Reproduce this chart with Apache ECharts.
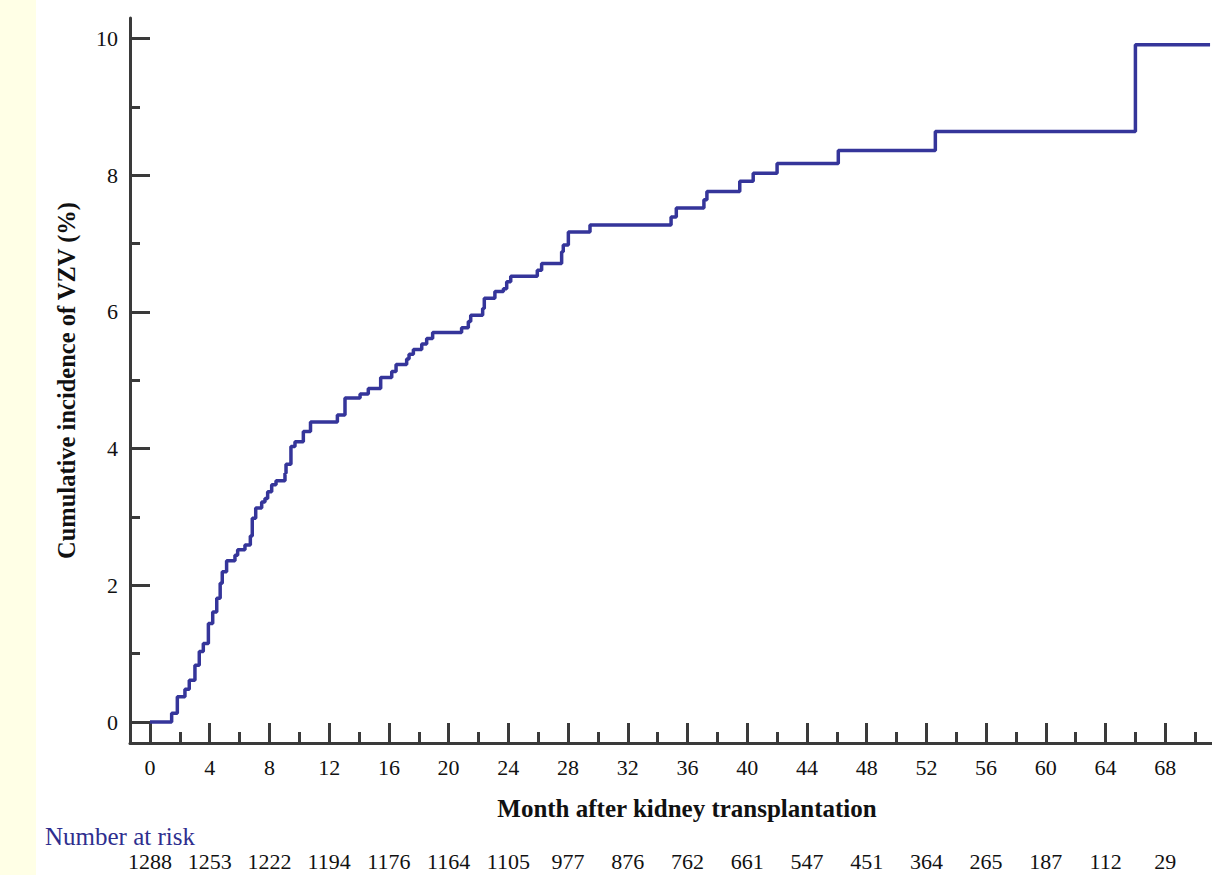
<!DOCTYPE html>
<html>
<head>
<meta charset="utf-8">
<script src="https://cdn.jsdelivr.net/npm/echarts@6/dist/echarts.min.js"></script>
<style>
  html, body { margin: 0; padding: 0; background: #ffffff; }
  #strip { position: absolute; left: 0; top: 0; width: 36px; height: 875px; background: #FFFFE6; }
  #chart { position: absolute; left: 0; top: 0; width: 1212px; height: 875px; }
</style>
</head>
<body>
<div id="strip"></div>
<div id="chart"></div>
<script>
// Step times (months) and cumulative incidence (%)
const months = [0, 1.45, 1.83, 2.34, 2.63, 3.01, 3.30, 3.57, 3.91, 4.20, 4.47, 4.70, 4.84, 5.13, 5.69, 5.87, 6.36, 6.72, 6.85, 7.08, 7.48, 7.70, 7.88, 8.15, 8.44, 9.04, 9.11, 9.44, 9.71, 10.27, 10.75, 12.55, 13.06, 14.07, 14.62, 15.45, 16.19, 16.48, 17.19, 17.35, 17.64, 18.20, 18.53, 18.93, 20.87, 21.32, 21.48, 22.28, 22.39, 23.10, 23.67, 23.89, 24.16, 25.94, 26.23, 27.57, 27.68, 28.02, 29.47, 34.90, 35.25, 37.10, 37.30, 39.50, 40.40, 42.00, 46.10, 52.60, 66.00, 71.00];
const incidence = [0, 0.13, 0.37, 0.48, 0.61, 0.83, 1.03, 1.15, 1.44, 1.61, 1.81, 2.03, 2.20, 2.36, 2.44, 2.52, 2.59, 2.72, 2.98, 3.13, 3.22, 3.27, 3.37, 3.47, 3.53, 3.64, 3.77, 4.03, 4.10, 4.25, 4.39, 4.49, 4.74, 4.80, 4.88, 5.04, 5.13, 5.23, 5.31, 5.38, 5.45, 5.53, 5.61, 5.70, 5.77, 5.86, 5.95, 6.05, 6.20, 6.30, 6.34, 6.44, 6.52, 6.61, 6.71, 6.88, 6.98, 7.17, 7.27, 7.39, 7.52, 7.64, 7.76, 7.91, 8.03, 8.17, 8.36, 8.64, 9.91, 9.91];
const xTicks = [0, 4, 8, 12, 16, 20, 24, 28, 32, 36, 40, 44, 48, 52, 56, 60, 64, 68];
const xMinorTicks = [2, 6, 10, 14, 18, 22, 26, 30, 34, 38, 42, 46, 50, 54, 58, 62, 66, 70];
const yTicks = [0, 2, 4, 6, 8, 10];
const yMinorTicks = [1, 3, 5, 7, 9];
const atRisk = [1288, 1253, 1222, 1194, 1176, 1164, 1105, 977, 876, 762, 661, 547, 451, 364, 265, 187, 112, 29];

const XMIN = -1.34, XMAX = 71.13, YMIN = -0.307, YMAX = 10.30;
const AX = '#3a3a3a';
const SERIF = '"Liberation Serif", "Times New Roman", "DejaVu Serif", serif';

const chart = echarts.init(document.getElementById('chart'), null, { renderer: 'svg' });
const series = months.map((m, i) => [m, incidence[i]]);

chart.setOption({
  backgroundColor: 'transparent',
  animation: false,
  title: {
    text: 'Number at risk',
    left: 45, top: 824, padding: 0,
    textStyle: { fontFamily: SERIF, fontSize: 25, fontWeight: 'normal', color: '#2e2e8e' }
  },
  grid: { left: 130, right: 0, top: 18, bottom: 132, containLabel: false, outerBoundsMode: 'none' },
  xAxis: [
    {
      type: 'value', min: XMIN, max: XMAX, position: 'bottom',
      axisLine: { onZero: false, lineStyle: { color: AX, width: 3 } },
      axisTick: { inside: true, length: 20, customValues: xTicks, lineStyle: { color: AX, width: 3 } },
      axisLabel: { customValues: xTicks, margin: 13, fontFamily: SERIF, fontSize: 22, color: '#111' },
      splitLine: { show: false },
      name: 'Month after kidney transplantation',
      nameLocation: 'middle', nameGap: 53,
      nameTextStyle: { fontFamily: SERIF, fontSize: 25, fontWeight: 'bold', color: '#111', padding: [0, 0, 0, 32] }
    },
    {
      type: 'value', min: XMIN, max: XMAX, position: 'bottom',
      axisLine: { show: false, onZero: false },
      axisTick: { inside: true, length: 11, customValues: xMinorTicks, lineStyle: { color: AX, width: 3 } },
      axisLabel: { show: false },
      splitLine: { show: false }
    },
    {
      type: 'value', min: XMIN, max: XMAX, position: 'bottom',
      axisLine: { show: false, onZero: false },
      axisTick: { show: false },
      axisLabel: {
        customValues: xTicks, margin: 108, fontFamily: SERIF, fontSize: 22, lineHeight: 20, color: '#111',
        formatter: v => String(atRisk[xTicks.indexOf(Math.round(v))])
      },
      splitLine: { show: false }
    }
  ],
  yAxis: [
    {
      type: 'value', min: YMIN, max: YMAX, position: 'left',
      axisLine: { show: true, onZero: false, lineStyle: { color: AX, width: 3 } },
      axisTick: { show: true, inside: true, length: 20, customValues: yTicks, lineStyle: { color: AX, width: 3 } },
      axisLabel: { customValues: yTicks, margin: 12, fontFamily: SERIF, fontSize: 22, color: '#111' },
      splitLine: { show: false },
      name: 'Cumulative incidence of VZV (%)',
      nameLocation: 'middle', nameGap: 51, nameRotate: 90,
      nameTextStyle: { fontFamily: SERIF, fontSize: 24.5, fontWeight: 'bold', color: '#111' }
    },
    {
      type: 'value', min: YMIN, max: YMAX, position: 'left',
      axisLine: { show: false, onZero: false },
      axisTick: { show: true, inside: true, length: 10, customValues: yMinorTicks, lineStyle: { color: AX, width: 3 } },
      axisLabel: { show: false },
      splitLine: { show: false }
    }
  ],
  series: [{
    type: 'line', step: 'end', data: series, showSymbol: false, symbol: 'none',
    xAxisIndex: 0, yAxisIndex: 0,
    lineStyle: { color: '#35359a', width: 3.5 }
  }]
});
</script>
</body>
</html>
